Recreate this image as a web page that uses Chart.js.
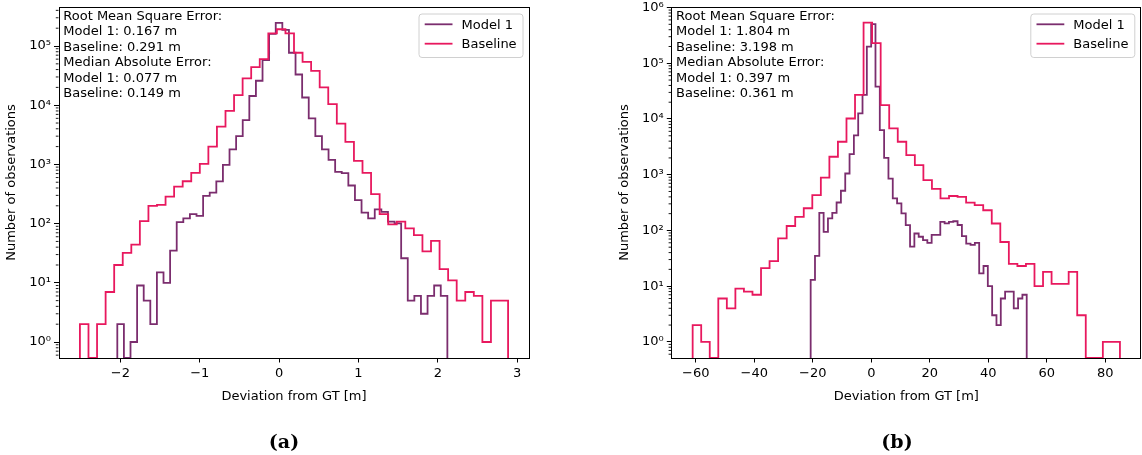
<!DOCTYPE html>
<html>
<head>
<meta charset="utf-8">
<script src="https://cdn.jsdelivr.net/npm/chart.js@4.4.1/dist/chart.umd.min.js"></script>
<style>
    html, body { margin: 0; padding: 0; background: #fff; }
    body { width: 1142px; height: 455px; position: relative; overflow: hidden; }
    canvas { position: absolute; top: 0; }
    #chart-a { left: 0; }
    #chart-b { left: 560px; }
    .caption {
        position: absolute; top: 430px; line-height: 22px;
        font-family: 'DejaVu Serif', serif; font-weight: bold; font-size: 19px;
        transform: translateX(-50%); color: #000;
    }
</style>
</head>
<body>
<canvas id="chart-a" width="560" height="455"></canvas>
<canvas id="chart-b" width="582" height="455"></canvas>
<div class="caption" style="left:284px">(a)</div>
<div class="caption" style="left:897px">(b)</div>
<script>
// Series names (legend order)
const seriesNames = ['Model 1', 'Baseline'];

// Panel (a) - 50 equal bins per series, [first edge, last edge]
const modelRangeA = [-2.039, 2.12];
const modelCountsA = [
    2, 0, 1, 9, 5, 2, 15, 10, 35, 106,
    123, 145, 135, 295, 333, 515, 980, 1800, 3000, 5600,
    14300, 25900, 58000, 160000, 246000, 188000, 77000, 33000, 13500, 6000,
    3000, 1800, 1190, 750, 710, 440, 250, 153, 123, 174,
    158, 108, 101, 26, 5, 6, 3, 6, 9, 6
];
const baseRangeA = [-2.51, 2.885];
const baseCountsA = [
    2, 0, 2, 7, 20, 32, 44, 110, 200, 208,
    285, 420, 520, 720, 1020, 2000, 4350, 8000, 14800, 28500,
    44000, 60000, 163000, 192000, 163000, 77000, 54000, 38000, 20000, 10400,
    4900, 2400, 1150, 720, 316, 145, 97, 108, 83, 64,
    34, 51, 17, 11, 5, 7, 6, 1, 5, 5
];
const xRangeA = [-2.78, 3.155];
const yRangeA = [0.537, 456000];
const xTicksA = [-2, -1, 0, 1, 2, 3];
const yTicksA = [1, 10, 100, 1000, 10000, 100000];
const statsA = [
    'Root Mean Square Error:', 'Model 1: 0.167 m', 'Baseline: 0.291 m',
    'Median Absolute Error:', 'Model 1: 0.077 m', 'Baseline: 0.149 m'
];

// Panel (b)
const modelRangeB = [-20.72, 53.13];
const modelCountsB = [
    13, 35, 207, 94, 165, 207, 317, 515, 1050, 2340,
    5100, 12600, 27000, 199000, 505000, 38000, 6300, 2000, 850, 375,
    305, 203, 124, 51, 88, 77, 67, 60, 83, 83,
    142, 134, 142, 146, 125, 79, 58, 55, 60, 17,
    23, 10, 3, 2, 6, 8, 8, 4, 6, 7
];
const baseRangeB = [-61.06, 85.0];
const baseCountsB = [
    2, 1, 0, 6, 4, 9, 8, 7, 21, 28,
    72, 120, 175, 250, 430, 885, 2100, 3900, 10200, 27000,
    535000, 230000, 17800, 6800, 3900, 2240, 1480, 800, 555, 375,
    415, 400, 315, 285, 230, 133, 62, 25, 23, 25,
    10, 18, 11, 11, 18, 3, 0, 0, 1, 1
];
const xRangeB = [-68.36, 92.3];
const yRangeB = [0.513, 1023000];
const xTicksB = [-60, -40, -20, 0, 20, 40, 60, 80];
const yTicksB = [1, 10, 100, 1000, 10000, 100000, 1000000];
const statsB = [
    'Root Mean Square Error:', 'Model 1: 1.804 m', 'Baseline: 3.198 m',
    'Median Absolute Error:', 'Model 1: 0.397 m', 'Baseline: 0.361 m'
];

const COLORS = ['#7b2d6e', '#e8185e'];
const FONT = { family: "'DejaVu Sans', sans-serif", size: 13 };
const SUP = { '0': '\u2070', '1': '\u00b9', '2': '\u00b2', '3': '\u00b3', '4': '\u2074', '5': '\u2075', '6': '\u2076' };

Chart.defaults.font.family = FONT.family;
Chart.defaults.font.size = FONT.size;
Chart.defaults.color = '#000';

// Outline of a step histogram; empty bins drop to the axis floor
function stepPoints(range, counts, floorY) {
    const n = counts.length;
    const w = (range[1] - range[0]) / n;
    const val = c => (c > 0 ? c : floorY);
    const pts = [{ x: range[0], y: floorY }];
    counts.forEach((c, i) => pts.push({ x: range[0] + i * w, y: val(c) }));
    pts.push({ x: range[1], y: val(counts[n - 1]) });
    pts.push({ x: range[1], y: floorY });
    return pts;
}

function fmtTick(v) {
    return v < 0 ? '\u2212' + Math.abs(v) : String(v);
}

function fmtPow(v) {
    const e = String(Math.round(Math.log10(v)));
    return '10' + e.split('').map(d => SUP[d]).join('');
}

// Frame, minor log ticks, stats text and legend box
const panelDecor = {
    id: 'panelDecor',
    afterDraw(chart, args, opts) {
        const { ctx, chartArea: a } = chart;
        const y = chart.scales.y;
        ctx.save();

        ctx.strokeStyle = '#000';
        ctx.lineWidth = 0.9;
        const lo = Math.floor(Math.log10(y.min));
        const hi = Math.ceil(Math.log10(y.max));
        for (let e = lo; e <= hi; e++) {
            for (let m = 2; m <= 9; m++) {
                const v = m * Math.pow(10, e);
                if (v < y.min || v > y.max) continue;
                const py = y.getPixelForValue(v);
                ctx.beginPath();
                ctx.moveTo(a.left - 2.7, py);
                ctx.lineTo(a.left, py);
                ctx.stroke();
            }
        }

        ctx.lineWidth = 1;
        ctx.strokeRect(Math.round(a.left) + 0.5, Math.round(a.top) + 0.5,
            Math.round(a.right - a.left) - 1, Math.round(a.bottom - a.top));

        ctx.font = "13px 'DejaVu Sans'";
        ctx.fillStyle = '#000';
        ctx.textBaseline = 'alphabetic';
        opts.lines.forEach((t, i) => ctx.fillText(t, a.left + 4.8, a.top + 12.6 + i * 15.5));

        // legend
        const boxW = 104, boxH = 43.5;
        const bx = a.right - 6.5 - boxW, by = a.top + 7;
        ctx.beginPath();
        ctx.roundRect(bx, by, boxW, boxH, 3);
        ctx.fillStyle = 'rgba(255,255,255,0.8)';
        ctx.fill();
        ctx.strokeStyle = '#d0d0d0';
        ctx.lineWidth = 1;
        ctx.stroke();
        chart.data.datasets.forEach((ds, i) => {
            const cy = by + 10.3 + i * 19.4;
            ctx.strokeStyle = ds.borderColor;
            ctx.lineWidth = 1.8;
            ctx.beginPath();
            ctx.moveTo(bx + 5.7, cy);
            ctx.lineTo(bx + 33.5, cy);
            ctx.stroke();
            ctx.fillStyle = '#000';
            ctx.fillText(ds.label, bx + 42.5, cy + 4.7);
        });
        ctx.restore();
    }
};

function makePanel(canvasId, cfg) {
    const ctx = document.getElementById(canvasId).getContext('2d');
    const floorY = cfg.yRange[0];
    const series = [
        { range: cfg.modelRange, counts: cfg.modelCounts },
        { range: cfg.baseRange, counts: cfg.baseCounts }
    ];
    return new Chart(ctx, {
        type: 'line',
        data: {
            datasets: series.map((s, i) => ({
                label: seriesNames[i],
                data: stepPoints(s.range, s.counts, floorY),
                stepped: 'before',
                borderColor: COLORS[i],
                borderWidth: 1.8,
                pointRadius: 0,
                fill: false,
                clip: 0,
                order: i === 0 ? 1 : 0
            }))
        },
        options: {
            responsive: false,
            animation: false,
            devicePixelRatio: 1,
            layout: { padding: cfg.padding },
            plugins: {
                legend: { display: false },
                tooltip: { enabled: false },
                panelDecor: { lines: cfg.stats }
            },
            scales: {
                x: {
                    type: 'linear',
                    min: cfg.xRange[0],
                    max: cfg.xRange[1],
                    afterBuildTicks: sc => { sc.ticks = cfg.xTicks.map(v => ({ value: v })); },
                    afterFit: sc => { sc.height = 97; sc.paddingLeft = 0; sc.paddingRight = 0; },
                    grid: { drawOnChartArea: false, tickLength: 4.5, tickColor: '#000', tickWidth: 1 },
                    border: { display: false },
                    ticks: { autoSkip: false, maxRotation: 0, padding: 3, color: '#000', font: FONT, callback: fmtTick },
                    title: {
                        display: true, text: 'Deviation from GT [m]', color: '#000', font: FONT,
                        padding: { top: 0, bottom: 51 }
                    }
                },
                y: {
                    type: 'logarithmic',
                    min: cfg.yRange[0],
                    max: cfg.yRange[1],
                    afterBuildTicks: sc => { sc.ticks = cfg.yTicks.map(v => ({ value: v })); },
                    afterFit: sc => { sc.width = 58.5; sc.paddingTop = 0; sc.paddingBottom = 0; },
                    grid: { drawOnChartArea: false, tickLength: 4.5, tickColor: '#000', tickWidth: 1 },
                    border: { display: false },
                    ticks: { autoSkip: false, padding: 3, color: '#000', font: FONT, callback: fmtPow },
                    title: {
                        display: true, text: 'Number of observations', color: '#000', font: FONT,
                        padding: { top: 4.3, bottom: 0 }
                    }
                }
            }
        },
        plugins: [panelDecor]
    });
}

makePanel('chart-a', {
    modelRange: modelRangeA, modelCounts: modelCountsA,
    baseRange: baseRangeA, baseCounts: baseCountsA,
    xRange: xRangeA, yRange: yRangeA, xTicks: xTicksA, yTicks: yTicksA,
    stats: statsA,
    padding: { left: 0, right: 30.5, top: 7, bottom: 0 }
});

makePanel('chart-b', {
    modelRange: modelRangeB, modelCounts: modelCountsB,
    baseRange: baseRangeB, baseCounts: baseCountsB,
    xRange: xRangeB, yRange: yRangeB, xTicks: xTicksB, yTicks: yTicksB,
    stats: statsB,
    padding: { left: 52.8, right: 0.7, top: 7, bottom: 0 }
});
</script>
</body>
</html>
